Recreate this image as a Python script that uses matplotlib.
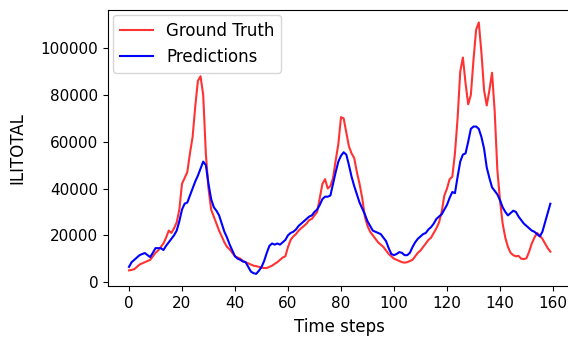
import matplotlib
matplotlib.use("Agg")
import matplotlib.pyplot as plt
import numpy as np

# values, one per time step (0..159)
ground_truth = [
    5000, 5200, 5500, 6500, 7500, 8000, 8500, 9000, 9500, 11000,
    12500, 13500, 15000, 16500, 19000, 22000, 21000, 23000, 25500, 31000,
    42000, 44500, 47000, 55000, 62000, 75000, 86000, 88000, 80000, 55000,
    40000, 31000, 28000, 25000, 22000, 19500, 17000, 15000, 14000, 12500,
    11000, 10500, 10000, 9000, 8500, 8000, 7500, 7000, 6800, 6500,
    6200, 6000, 6000, 6500, 7000, 7800, 8500, 9500, 10500, 11000,
    15000, 18000, 19500, 20500, 22000, 23000, 24000, 25000, 26500, 27000,
    28500, 30000, 36000, 42000, 44000, 40000, 41000, 44500, 52000, 59000,
    70500, 70000, 64000, 58000, 55000, 53000, 47000, 42000, 36000, 28000,
    24000, 21500, 20000, 18500, 17000, 16000, 15000, 13500, 12000, 11000,
    10000, 9500, 9000, 8500, 8300, 8500, 9000, 9500, 11000, 12500,
    13500, 15000, 16500, 18000, 19000, 21000, 23000, 25500, 30000, 37000,
    40000, 44000, 45000, 55000, 70000, 90000, 96000, 85000, 76000, 80000,
    95000, 108000, 111000, 98000, 82000, 75500, 82000, 89500, 73000, 48000,
    35000, 25000, 19000, 15000, 12500, 11500, 11000, 11200, 10000, 9800,
    10200, 13000, 16500, 19000, 21000, 20000, 18500, 16500, 14500, 13000,
]

predictions = [
    6500, 8500, 9500, 10500, 11500, 12000, 12400, 11500, 10700, 12500,
    14500, 14500, 14500, 13700, 15500, 17000, 18500, 20000, 22000, 26000,
    31000, 33500, 34000, 37000, 40000, 43000, 45500, 48500, 51500, 50000,
    42000, 35500, 32000, 30500, 28500, 25000, 21500, 19000, 16000, 13500,
    11000, 10000, 9500, 8800, 8500, 6500, 4500, 3800, 3500, 4800,
    6400, 9000, 12500, 15500, 16500, 16000, 16500, 16000, 17000, 18000,
    20000, 21000, 21500, 22500, 24000, 25000, 26000, 27000, 28000, 28500,
    30000, 31000, 33000, 35500, 36500, 36500, 37000, 42000, 47000, 51500,
    54000, 55500, 54500, 50000, 45000, 41000, 37500, 34000, 31500, 29000,
    26000, 24000, 22000, 21500, 21000, 20500, 19000, 17500, 14500, 12000,
    11500, 12000, 12800, 12500, 11500, 11500, 12500, 15000, 17000, 18500,
    19500, 20500, 21000, 22500, 23500, 25000, 27000, 28000, 29000, 31000,
    33000, 36000, 38500, 38000, 45000, 51500, 54500, 55000, 60000, 65500,
    66500, 66500, 65500, 62000, 57000, 49000, 44500, 40500, 39000, 37500,
    35000, 32000, 30000, 28500, 29500, 30500, 30000, 28000, 26500, 25000,
    24000, 23000, 22000, 21500, 20500, 19500, 21500, 25500, 29500, 33500,
]

steps = np.arange(len(ground_truth))

fig = plt.figure(figsize=(5.68, 3.41), dpi=100)
# right spine sits just past the image edge, as in the reference crop
ax = fig.add_axes([0.190, 0.160, 0.816, 0.811])
ax.plot(steps, ground_truth, color="red", alpha=0.8, label="Ground Truth")
ax.plot(steps, predictions, color="blue", label="Predictions")
ax.set_xlabel("Time steps", fontsize=12, labelpad=5)
ax.set_ylabel("ILITOTAL", fontsize=12, labelpad=10)
ax.tick_params(labelsize=11)
ax.legend(loc="upper left", fontsize=12, borderaxespad=0.3)
fig.savefig("out.png", dpi=100)
